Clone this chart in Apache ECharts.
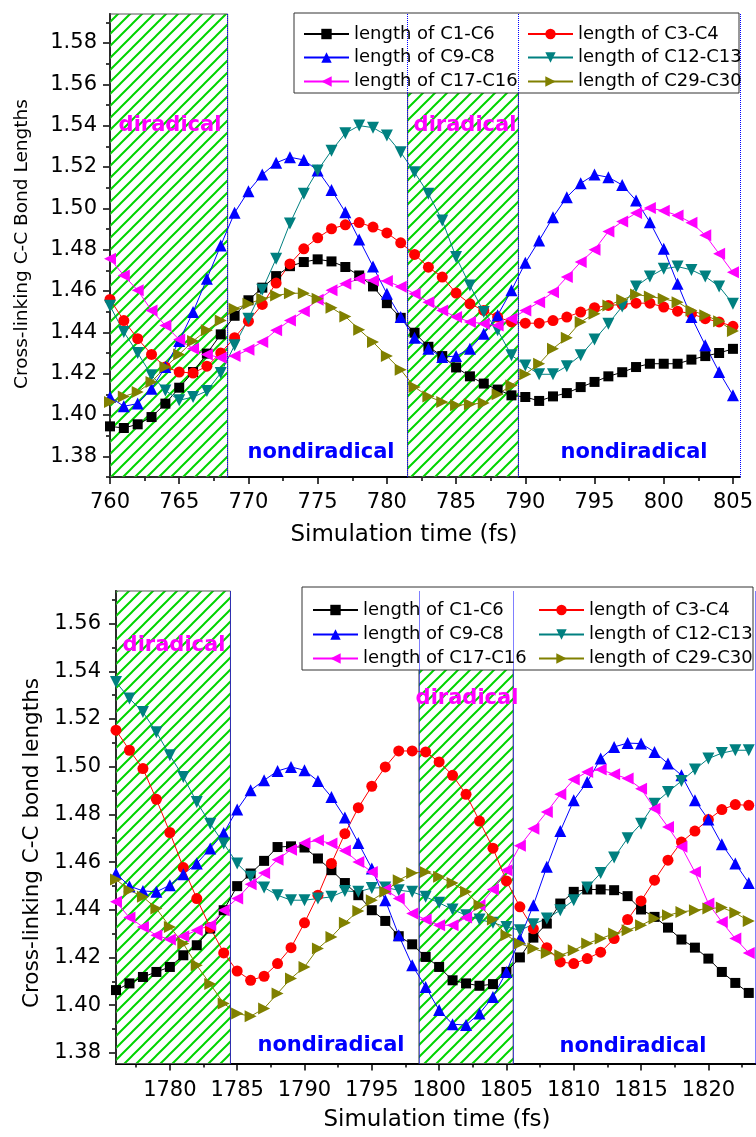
<!DOCTYPE html>
<html>
<head>
<meta charset="utf-8">
<title>Cross-linking C-C bond lengths</title>
<script src="https://cdn.jsdelivr.net/npm/echarts@6.0.0/dist/echarts.min.js"></script>
<style>
  html, body { margin: 0; padding: 0; background: #fff; }
  #main { width: 756px; height: 1137px; }
</style>
</head>
<body>
<div id="main"></div>
<script>
// one frame per fs
var topTimes = []
for (var t = 760; t <= 805; t++) topTimes.push(t)
var botTimes = []
for (var t = 1776; t <= 1823; t++) botTimes.push(t)

var seriesNames = ['length of C1-C6', 'length of C3-C4', 'length of C9-C8',
  'length of C12-C13', 'length of C17-C16', 'length of C29-C30']

// upper panel, 760 - 805 fs
var c1c6Top = [1.3945, 1.3937, 1.3955, 1.3990, 1.4055, 1.4132, 1.4208, 1.4297, 1.4390, 1.4480,
  1.4555, 1.4616, 1.4672, 1.4720, 1.4740, 1.4753, 1.4743, 1.4716, 1.4675, 1.4622,
  1.4541, 1.4470, 1.4398, 1.4330, 1.4285, 1.4230, 1.4187, 1.4152, 1.4123, 1.4095,
  1.4087, 1.4068, 1.4090, 1.4106, 1.4135, 1.4160, 1.4187, 1.4207, 1.4232, 1.4248,
  1.4248, 1.4248, 1.4268, 1.4285, 1.4300, 1.4320]
var c3c4Top = [1.4559, 1.4457, 1.4369, 1.4293, 1.4232, 1.4208, 1.4203, 1.4236, 1.4300, 1.4374,
  1.4454, 1.4535, 1.4638, 1.4731, 1.4804, 1.4857, 1.4901, 1.4920, 1.4931, 1.4909,
  1.4881, 1.4833, 1.4777, 1.4715, 1.4667, 1.4590, 1.4538, 1.4506, 1.4474, 1.4450,
  1.4444, 1.4444, 1.4457, 1.4474, 1.4498, 1.4519, 1.4530, 1.4535, 1.4541, 1.4541,
  1.4522, 1.4502, 1.4490, 1.4466, 1.4450, 1.4429]
var c9c8Top = [1.4087, 1.4042, 1.4055, 1.4127, 1.4232, 1.4358, 1.4498, 1.4659, 1.4820, 1.4978,
  1.5083, 1.5163, 1.5220, 1.5247, 1.5234, 1.5183, 1.5089, 1.4981, 1.4849, 1.4718,
  1.4587, 1.4474, 1.4374, 1.4321, 1.4280, 1.4285, 1.4321, 1.4393, 1.4482, 1.4603,
  1.4736, 1.4844, 1.4957, 1.5054, 1.5121, 1.5163, 1.5150, 1.5113, 1.5038, 1.4933,
  1.4804, 1.4635, 1.4474, 1.4337, 1.4208, 1.4095]
var c12c13Top = [1.4528, 1.4401, 1.4300, 1.4192, 1.4119, 1.4071, 1.4087, 1.4116, 1.4203, 1.4337,
  1.4466, 1.4606, 1.4756, 1.4927, 1.5070, 1.5183, 1.5279, 1.5363, 1.5400, 1.5390,
  1.5352, 1.5271, 1.5174, 1.5070, 1.4941, 1.4764, 1.4627, 1.4498, 1.4410, 1.4289,
  1.4240, 1.4197, 1.4197, 1.4236, 1.4289, 1.4365, 1.4442, 1.4525, 1.4622, 1.4670,
  1.4707, 1.4718, 1.4702, 1.4670, 1.4622, 1.4538]
var c17c16Top = [1.4756, 1.4675, 1.4603, 1.4506, 1.4433, 1.4365, 1.4321, 1.4293, 1.4277, 1.4285,
  1.4316, 1.4353, 1.4410, 1.4457, 1.4502, 1.4558, 1.4603, 1.4635, 1.4659, 1.4651,
  1.4648, 1.4620, 1.4587, 1.4546, 1.4506, 1.4474, 1.4450, 1.4442, 1.4433, 1.4466,
  1.4506, 1.4546, 1.4594, 1.4667, 1.4740, 1.4800, 1.4888, 1.4936, 1.4977, 1.5001,
  1.4988, 1.4965, 1.4930, 1.4870, 1.4780, 1.4690]
var c29c30Top = [1.4063, 1.4090, 1.4111, 1.4160, 1.4232, 1.4293, 1.4358, 1.4410, 1.4457, 1.4514,
  1.4538, 1.4562, 1.4578, 1.4589, 1.4589, 1.4562, 1.4519, 1.4477, 1.4413, 1.4353,
  1.4285, 1.4219, 1.4135, 1.4090, 1.4063, 1.4047, 1.4052, 1.4058, 1.4100, 1.4143,
  1.4197, 1.4248, 1.4321, 1.4374, 1.4450, 1.4490, 1.4530, 1.4558, 1.4583, 1.4573,
  1.4562, 1.4546, 1.4506, 1.4482, 1.4454, 1.4406]

// lower panel, 1776 - 1823 fs
var c1c6Bot = [1.4063, 1.4091, 1.4118, 1.4139, 1.4160, 1.4209, 1.4251, 1.4321, 1.4398, 1.4499,
  1.4552, 1.4605, 1.4663, 1.4666, 1.4661, 1.4615, 1.4566, 1.4512, 1.4461, 1.4398,
  1.4353, 1.4289, 1.4255, 1.4202, 1.4160, 1.4104, 1.4091, 1.4081, 1.4088, 1.4139,
  1.4200, 1.4283, 1.4342, 1.4426, 1.4475, 1.4485, 1.4485, 1.4482, 1.4457, 1.4401,
  1.4370, 1.4325, 1.4275, 1.4241, 1.4195, 1.4139, 1.4093, 1.4051]
var c3c4Bot = [1.5153, 1.5069, 1.4992, 1.4863, 1.4724, 1.4577, 1.4447, 1.4325, 1.4219, 1.4143,
  1.4104, 1.4121, 1.4174, 1.4241, 1.4345, 1.4461, 1.4594, 1.4719, 1.4828, 1.4918,
  1.4999, 1.5066, 1.5066, 1.5062, 1.5020, 1.4964, 1.4884, 1.4772, 1.4658, 1.4521,
  1.4412, 1.4320, 1.4241, 1.4181, 1.4174, 1.4195, 1.4222, 1.4279, 1.4359, 1.4437,
  1.4524, 1.4608, 1.4684, 1.4730, 1.4778, 1.4820, 1.4841, 1.4838]
var c9c8Bot = [1.4552, 1.4499, 1.4479, 1.4475, 1.4503, 1.4549, 1.4594, 1.4657, 1.4722, 1.4820,
  1.4901, 1.4943, 1.4982, 1.4999, 1.4985, 1.4940, 1.4873, 1.4787, 1.4680, 1.4573,
  1.4440, 1.4293, 1.4167, 1.4076, 1.3979, 1.3920, 1.3916, 1.3965, 1.4034, 1.4139,
  1.4279, 1.4419, 1.4580, 1.4730, 1.4859, 1.4936, 1.5034, 1.5083, 1.5099, 1.5097,
  1.5062, 1.5013, 1.4964, 1.4859, 1.4778, 1.4675, 1.4594, 1.4512]
var c12c13Bot = [1.5355, 1.5286, 1.5229, 1.5145, 1.5048, 1.4957, 1.4852, 1.4761, 1.4678, 1.4594,
  1.4538, 1.4493, 1.4461, 1.4440, 1.4440, 1.4447, 1.4454, 1.4479, 1.4475, 1.4491,
  1.4493, 1.4482, 1.4475, 1.4454, 1.4429, 1.4401, 1.4377, 1.4359, 1.4345, 1.4328,
  1.4314, 1.4339, 1.4363, 1.4398, 1.4440, 1.4493, 1.4554, 1.4619, 1.4700, 1.4761,
  1.4845, 1.4894, 1.4940, 1.4988, 1.5034, 1.5057, 1.5069, 1.5069]
var c17c16Bot = [1.4433, 1.4367, 1.4328, 1.4293, 1.4275, 1.4289, 1.4314, 1.4335, 1.4398, 1.4447,
  1.4507, 1.4554, 1.4610, 1.4652, 1.4680, 1.4691, 1.4678, 1.4647, 1.4600, 1.4558,
  1.4485, 1.4447, 1.4384, 1.4359, 1.4335, 1.4335, 1.4367, 1.4419, 1.4485, 1.4566,
  1.4668, 1.4740, 1.4810, 1.4884, 1.4946, 1.4978, 1.4988, 1.4968, 1.4950, 1.4908,
  1.4824, 1.4747, 1.4664, 1.4558, 1.4426, 1.4349, 1.4279, 1.4219]
var c29c30Bot = [1.4527, 1.4482, 1.4454, 1.4405, 1.4328, 1.4258, 1.4167, 1.4088, 1.4007, 1.3965,
  1.3953, 1.3986, 1.4049, 1.4112, 1.4160, 1.4237, 1.4286, 1.4345, 1.4395, 1.4440,
  1.4475, 1.4524, 1.4554, 1.4558, 1.4538, 1.4512, 1.4475, 1.4419, 1.4359, 1.4293,
  1.4258, 1.4237, 1.4219, 1.4209, 1.4230, 1.4258, 1.4279, 1.4300, 1.4314, 1.4335,
  1.4363, 1.4377, 1.4391, 1.4398, 1.4405, 1.4409, 1.4387, 1.4353]

// diradical windows and dotted boundaries
var topDiradical = [[760, 768.5], [781.5, 789.5]]
var topBounds = [768.5, 781.5, 789.5, 805.5]
var botDiradical = [[1776, 1784.5], [1798.5, 1805.5]]
var botBounds = [1784.5, 1798.5, 1805.5, 1823.5]

// tick labels
var topXTicks = [760, 765, 770, 775, 780, 785, 790, 795, 800, 805]
var topXMinor = [762.5, 767.5, 772.5, 777.5, 782.5, 787.5, 792.5, 797.5, 802.5]
var topYTicks = [1.38, 1.40, 1.42, 1.44, 1.46, 1.48, 1.50, 1.52, 1.54, 1.56, 1.58]
var topYMinor = [1.37, 1.39, 1.41, 1.43, 1.45, 1.47, 1.49, 1.51, 1.53, 1.55, 1.57, 1.59]
var botXTicks = [1780, 1785, 1790, 1795, 1800, 1805, 1810, 1815, 1820]
var botXMinor = [1777.5, 1782.5, 1787.5, 1792.5, 1797.5, 1802.5, 1807.5, 1812.5, 1817.5, 1822.5]
var botYTicks = [1.38, 1.40, 1.42, 1.44, 1.46, 1.48, 1.50, 1.52, 1.54, 1.56]
var botYMinor = [1.39, 1.41, 1.43, 1.45, 1.47, 1.49, 1.51, 1.53, 1.55, 1.57]

var FONT = 'DejaVu Sans'

// symbol, rotation, size, colour for each bond
var looks = [
  ['rect', 0, 10, '#000000'],
  ['circle', 0, 11, '#ff0000'],
  ['triangle', 0, 12, '#0000ff'],
  ['triangle', 180, 12, '#008080'],
  ['triangle', 90, 12, '#ff00ff'],
  ['triangle', -90, 12, '#808000']
]

function makeHatch () {
  var c = document.createElement('canvas')
  c.width = 12
  c.height = 12
  var ctx = c.getContext('2d')
  ctx.strokeStyle = '#00d400'
  ctx.lineWidth = 2
  ctx.beginPath()
  ctx.moveTo(0, 12); ctx.lineTo(12, 0)
  ctx.moveTo(-2, 2); ctx.lineTo(2, -2)
  ctx.moveTo(10, 14); ctx.lineTo(14, 10)
  ctx.stroke()
  return c
}
var hatch = makeHatch()

function mainX (grid, min, max, ticks, margin) {
  return {
    type: 'value', gridIndex: grid, min: min, max: max, position: 'bottom',
    axisLine: { show: true, onZero: false, lineStyle: { color: '#000', width: 2 } },
    axisTick: { show: true, length: 7, customValues: ticks, lineStyle: { color: '#000', width: 1.5 } },
    axisLabel: { customValues: ticks, margin: margin, color: '#000', fontFamily: FONT, fontSize: 21,
      formatter: function (v) { return String(v) } },
    splitLine: { show: false }
  }
}
function mainY (grid, min, max, ticks, margin) {
  return {
    type: 'value', gridIndex: grid, min: min, max: max, position: 'left',
    axisLine: { show: true, onZero: false, lineStyle: { color: '#000', width: 2 } },
    axisTick: { show: true, length: 7, customValues: ticks, lineStyle: { color: '#000', width: 1.5 } },
    axisLabel: { customValues: ticks, margin: margin, color: '#000', fontFamily: FONT, fontSize: 21,
      formatter: function (v) { return v.toFixed(2) } },
    splitLine: { show: false }
  }
}
// second axis on the same scale, only for the short minor ticks
function minorAxis (grid, min, max, ticks, pos) {
  return {
    type: 'value', gridIndex: grid, min: min, max: max, position: pos,
    axisLine: { show: false, onZero: false },
    axisTick: { show: true, length: 4, customValues: ticks, lineStyle: { color: '#000', width: 1.5 } },
    axisLabel: { show: false },
    splitLine: { show: false }
  }
}

function bondSeries (i, axis, times, values) {
  var lk = looks[i]
  return {
    type: 'line', name: seriesNames[i], xAxisIndex: axis, yAxisIndex: axis,
    data: times.map(function (t, k) { return [t, values[k]] }),
    symbol: lk[0], symbolRotate: lk[1], symbolSize: lk[2], showAllSymbol: true,
    lineStyle: { color: lk[3], width: 1 },
    itemStyle: { color: lk[3] },
    z: 2
  }
}

function hatchSeries (axis, ranges) {
  return {
    type: 'line', xAxisIndex: axis, yAxisIndex: axis, data: [], z: 3, silent: true,
    markArea: {
      silent: true,
      label: { show: false },
      itemStyle: { color: { image: hatch, repeat: 'repeat' }, borderColor: '#555', borderWidth: 1 },
      data: ranges.map(function (r) { return [{ xAxis: r[0] }, { xAxis: r[1] }] })
    }
  }
}

function boundSeries (axis, xs) {
  return {
    type: 'line', xAxisIndex: axis, yAxisIndex: axis, data: [], z: 7, silent: true,
    markLine: {
      silent: true, symbol: ['none', 'none'], label: { show: false },
      lineStyle: { color: '#0000ff', type: 'dotted', width: 1 },
      data: xs.map(function (x) { return { xAxis: x } })
    }
  }
}

// one legend per entry so every row sits where the original has it
function legendItem (name, left, centerY) {
  return {
    orient: 'vertical', left: left, top: centerY - 9, padding: 0,
    itemWidth: 45, itemHeight: 13, selectedMode: false, z: 6,
    data: [name],
    textStyle: { fontFamily: FONT, fontSize: 18, color: '#000', lineHeight: 18 }
  }
}

function label (text, x, y, size, color, bold, rot) {
  return {
    type: 'text', x: x, y: y, rotation: rot || 0, z: 8, silent: true,
    style: {
      text: text, fill: color, fontFamily: FONT, fontSize: size,
      fontWeight: bold ? 'bold' : 'normal', align: 'center', verticalAlign: 'middle'
    }
  }
}

var topRows = [34, 57.5, 81.5]
var botRows = [610, 634.5, 658.5]
var legends = []
for (var r = 0; r < 3; r++) {
  legends.push(legendItem(seriesNames[2 * r], 303, topRows[r]))
  legends.push(legendItem(seriesNames[2 * r + 1], 527, topRows[r]))
  legends.push(legendItem(seriesNames[2 * r], 312, botRows[r]))
  legends.push(legendItem(seriesNames[2 * r + 1], 538, botRows[r]))
}

var series = []
var topVals = [c1c6Top, c3c4Top, c9c8Top, c12c13Top, c17c16Top, c29c30Top]
var botVals = [c1c6Bot, c3c4Bot, c9c8Bot, c12c13Bot, c17c16Bot, c29c30Bot]
for (var i = 0; i < 6; i++) series.push(bondSeries(i, 0, topTimes, topVals[i]))
for (var i = 0; i < 6; i++) series.push(bondSeries(i, 2, botTimes, botVals[i]))
series.push(hatchSeries(0, topDiradical), hatchSeries(2, botDiradical))
series.push(boundSeries(0, topBounds), boundSeries(2, botBounds))

var myChart = echarts.init(document.getElementById('main'))
myChart.setOption({
  animation: false,
  backgroundColor: '#fff',
  grid: [
    { left: 110, top: 14, width: 632, height: 463 },
    { left: 116, top: 591, width: 639.5, height: 472.5 }
  ],
  xAxis: [
    mainX(0, 760, 805.5, topXTicks, 15),
    minorAxis(0, 760, 805.5, topXMinor, 'bottom'),
    mainX(1, 1776, 1823.5, botXTicks, 17),
    minorAxis(1, 1776, 1823.5, botXMinor, 'bottom')
  ],
  yAxis: [
    mainY(0, 1.37, 1.594, topYTicks, 13),
    minorAxis(0, 1.37, 1.594, topYMinor, 'left'),
    mainY(1, 1.3755, 1.5737, botYTicks, 15),
    minorAxis(1, 1.3755, 1.5737, botYMinor, 'left')
  ],
  legend: legends,
  graphic: [
    { type: 'rect', z: 5, silent: true, shape: { x: 294, y: 13, width: 445, height: 80 },
      style: { fill: '#fff', stroke: '#333', lineWidth: 1 } },
    { type: 'rect', z: 5, silent: true, shape: { x: 302, y: 587, width: 451, height: 83 },
      style: { fill: '#fff', stroke: '#333', lineWidth: 1 } },
    label('Simulation time (fs)', 404, 535, 23, '#000', false),
    label('Simulation time (fs)', 437, 1120, 23, '#000', false),
    label('Cross-linking C-C Bond Lengths', 22, 244, 18.5, '#000', false, Math.PI / 2),
    label('Cross-linking C-C bond lengths', 32, 843, 21.5, '#000', false, Math.PI / 2),
    label('diradical', 170, 126, 21, '#ff00ff', true),
    label('diradical', 465, 126, 21, '#ff00ff', true),
    label('nondiradical', 321, 453, 21, '#0000ff', true),
    label('nondiradical', 634, 453, 21, '#0000ff', true),
    label('diradical', 174, 646, 21, '#ff00ff', true),
    label('diradical', 467, 699, 21, '#ff00ff', true),
    label('nondiradical', 331, 1046, 21, '#0000ff', true),
    label('nondiradical', 633, 1047, 21, '#0000ff', true)
  ],
  series: series
})
</script>
</body>
</html>
